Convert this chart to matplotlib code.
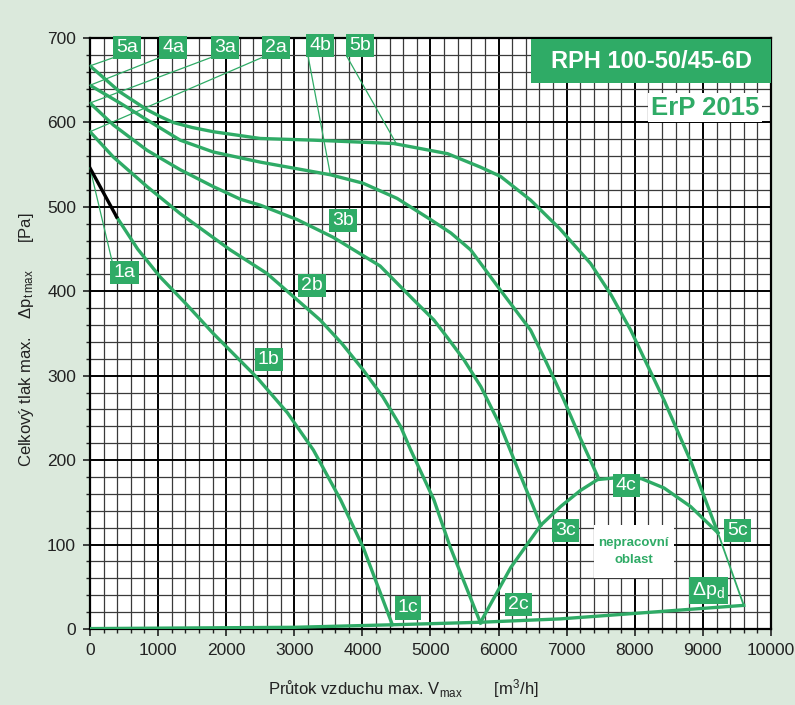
import matplotlib.pyplot as plt
from matplotlib.patches import Rectangle
from matplotlib.ticker import MultipleLocator

plt.rcParams['font.family'] = ['Liberation Sans', 'DejaVu Sans']
plt.rcParams['mathtext.fontset'] = 'custom'
plt.rcParams['mathtext.rm'] = 'Liberation Sans'
plt.rcParams['mathtext.it'] = 'Liberation Sans'

GREEN = '#2fab66'
BG = '#dbe9dc'

# charakteristiky: průtok [m3/h], tlak [Pa]
k1_cerna_x = [0, 392]
k1_cerna_y = [546, 488]
k1_x = [392, 700, 1030, 1400, 1810, 2450, 2900, 3280, 3680, 4010, 4440]
k1_y = [488, 450, 417, 386, 350, 298, 256, 212, 153, 97, 5]

k2_x = [0, 343, 838, 1324, 2060, 2600, 3040, 3380, 3700, 4010, 4300, 4560, 4710, 5050, 5290, 5735]
k2_y = [589, 559, 524, 492, 449, 421, 390, 366, 338, 307, 275, 240, 212, 153, 97, 7]

k3_x = [0, 343, 838, 1324, 1810, 2210, 2500, 3040, 3570, 4260, 4750, 5050, 5250, 5490, 5740,
        6030, 6270, 6620]
k3_y = [623, 597, 567, 544, 524, 509, 502, 485, 464, 430, 390, 366, 345, 319, 287, 240, 192, 123]

k4_x = [0, 441, 838, 1324, 1810, 2500, 3530, 4010, 4510, 5000, 5300, 5590, 6030, 6470, 6700,
        6960, 7200, 7470]
k4_y = [644, 623, 603, 579, 565, 553, 538, 528, 510, 485, 469, 449, 401, 354, 316, 271, 226, 178]

k5_x = [0, 441, 838, 1030, 1220, 1500, 1810, 2500, 3280, 4460, 5250, 5735, 6030, 6470, 6900,
        7350, 7650, 7940, 8430, 8830, 9220]
k5_y = [667, 636, 615, 607, 600, 594, 589, 581, 579, 575, 563, 547, 536, 508, 474, 433, 396, 354,
        271, 197, 114]
k5_konec_x = [9220, 9600]
k5_konec_y = [114, 28]

# hranice pracovní oblasti
mez_x = [5735, 6180, 6620, 6910, 7200, 7455, 7840, 8100, 8430, 8820, 9220]
mez_y = [8, 73, 123, 145, 164, 177, 180, 178, 167, 145, 114]

# dynamický tlak
dpd_x = [0, 3000, 4440, 5735, 6910, 9600]
dpd_y = [0.5, 2, 5, 8, 12, 28]

# popisky křivek (text, x, y)
popisky = [
    ('5a', 544, 689), ('4a', 1220, 689), ('3a', 1980, 689), ('2a', 2730, 689),
    ('4b', 3380, 691), ('5b', 3960, 691),
    ('1a', 507, 422), ('1b', 2625, 319), ('2b', 3257, 407), ('3b', 3713, 484),
    ('1c', 4669, 25), ('2c', 6287, 29), ('3c', 6985, 117), ('4c', 7875, 170),
    ('5c', 9507, 117),
]
# odkazové čáry (x0, y0, x1, y1)
odkazy = [
    (353, 677, 0, 667), (1030, 677, 0, 644), (1780, 677, 0, 623), (2530, 677, 0, 589),
    (3206, 677, 3530, 538), (3780, 677, 4490, 576), (0, 546, 323, 436),
]

fig = plt.figure(figsize=(7.95, 7.05), dpi=100, facecolor=BG)
ax = fig.add_axes([0.1132, 0.1078, 0.8566, 0.8383])
ax.set_facecolor('white')

ax.set_xlim(0, 10000)
ax.set_ylim(0, 700)
ax.xaxis.set_major_locator(MultipleLocator(1000))
ax.xaxis.set_minor_locator(MultipleLocator(200))
ax.yaxis.set_major_locator(MultipleLocator(100))
ax.yaxis.set_minor_locator(MultipleLocator(20))
ax.set_axisbelow(True)
ax.grid(which='minor', color='#3a3a3a', lw=0.9)
ax.grid(which='major', color='black', lw=1.4)
ax.tick_params(which='major', direction='out', length=5, width=1.2, labelsize=12.5,
               colors='#222222', pad=5)
ax.tick_params(which='minor', direction='out', length=3, width=1.0, colors='#222222')
for s in ax.spines.values():
    s.set_linewidth(1.6)

# neprovozní oblast
ax.add_patch(Rectangle((7397, 60), 1177, 63, fc='white', ec='none', zorder=1))
ax.text(7985, 92, 'nepracovní\noblast', color=GREEN, fontsize=9.5, fontweight='bold',
        ha='center', va='center', linespacing=1.5, zorder=2)

for x0, y0, x1, y1 in odkazy:
    ax.plot([x0, x1], [y0, y1], color=GREEN, lw=0.9, clip_on=False, zorder=3)

lw = 2.4
ax.plot(dpd_x, dpd_y, color=GREEN, lw=lw, zorder=4)
ax.plot(mez_x, mez_y, color=GREEN, lw=lw, zorder=4)
ax.plot(k1_x, k1_y, color=GREEN, lw=lw, zorder=4)
ax.plot(k1_cerna_x, k1_cerna_y, color='black', lw=lw, zorder=5)
ax.plot(k2_x, k2_y, color=GREEN, lw=lw, zorder=4)
ax.plot(k3_x, k3_y, color=GREEN, lw=lw, zorder=4)
ax.plot(k4_x, k4_y, color=GREEN, lw=lw, zorder=4)
ax.plot(k5_x, k5_y, color=GREEN, lw=lw, zorder=4)
ax.plot(k5_konec_x, k5_konec_y, color=GREEN, lw=1.3, zorder=4)

box = dict(boxstyle='square,pad=0.16', fc=GREEN, ec='none')
for t, x, y in popisky:
    ax.text(x, y, t, color='white', fontsize=14, ha='center', va='center',
            bbox=box, clip_on=False, zorder=6)
ax.text(9088, 46, r'$\Delta$p$_{\rm d}$', color='white', fontsize=14, ha='center',
        va='center', bbox=box, zorder=6)

# typ ventilátoru
ax.add_patch(Rectangle((0.648, 0.924), 0.352, 0.074, transform=ax.transAxes,
                       fc=GREEN, ec='none', zorder=6))
ax.text(0.825, 0.961, 'RPH 100-50/45-6D', transform=ax.transAxes, color='white',
        fontsize=17, fontweight='bold', ha='center', va='center', zorder=7)
ax.text(0.903, 0.882, 'ErP 2015', transform=ax.transAxes, color=GREEN,
        fontsize=18.5, fontweight='bold', ha='center', va='center', zorder=7,
        bbox=dict(boxstyle='square,pad=0.1', fc='white', ec='none'))

ax.set_xlabel(r'Průtok vzduchu max. V$_{\rm max}$       [m$^{3}$/h]', fontsize=12,
              color='#222222')
ax.xaxis.set_label_coords(0.46, -0.082)
ax.set_ylabel(r'Celkový tlak max.    $\Delta$p$_{\rm t\,max}$      [Pa]', fontsize=12,
              color='#222222', labelpad=8)
ax.yaxis.set_label_coords(-0.079, 0.49)

fig.savefig('out.png', dpi=100, facecolor=BG)
